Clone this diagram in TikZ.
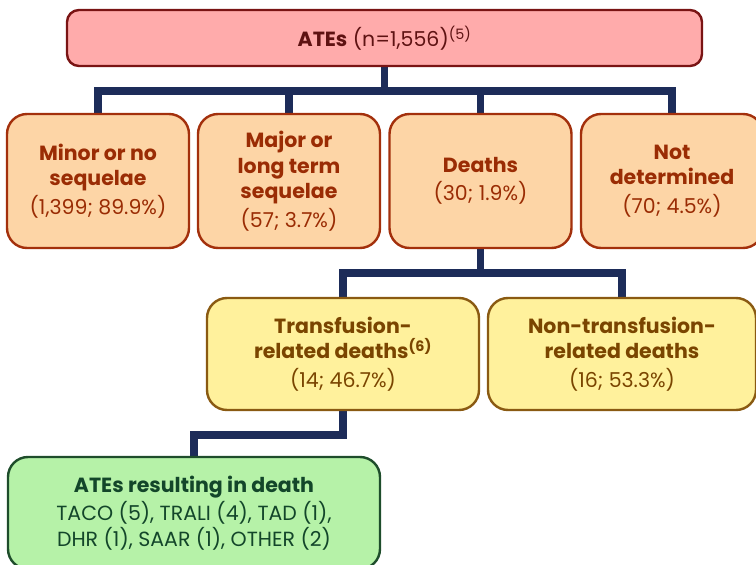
\documentclass[tikz,border=0pt]{standalone}
\usepackage{fontspec}
\setmainfont{Poppins}
\usepackage{tikz}
\usepackage{xcolor}
\usetikzlibrary{backgrounds}
\definecolor{linknavy}{HTML}{1D2C59}
\definecolor{topfill}{HTML}{FFABAB}
\definecolor{topdraw}{HTML}{7A1414}
\definecolor{toptext}{HTML}{5E1212}
\definecolor{midfill}{HTML}{FDD5A6}
\definecolor{middraw}{HTML}{A3300C}
\definecolor{midtext}{HTML}{9A2C04}
\definecolor{yelfill}{HTML}{FFF19C}
\definecolor{yeldraw}{HTML}{8A5A12}
\definecolor{yeltext}{HTML}{7A4500}
\definecolor{grnfill}{HTML}{B6F2A8}
\definecolor{grndraw}{HTML}{1E4D2B}
\definecolor{grntext}{HTML}{13462A}
\def\drop{24}

\begin{document}
\begin{tikzpicture}[x=1pt,y=-1pt]
    \tikzstyle{box}=[rounded corners=20pt,line width=2.4pt,align=center,inner sep=0pt,
        font=\fontsize{20.5}{25.5}\selectfont]
    \tikzstyle{top box}=[box,rounded corners=12pt,fill=topfill,draw=topdraw,text=toptext,
        minimum width=635pt,minimum height=56pt]
    \tikzstyle{outcome}=[box,fill=midfill,draw=middraw,text=midtext,
        minimum width=182pt,minimum height=134pt]
    \tikzstyle{death}=[box,fill=yelfill,draw=yeldraw,text=yeltext,
        minimum height=112pt]
    \tikzstyle{cause}=[box,fill=grnfill,draw=grndraw,text=grntext,
        minimum width=372pt,minimum height=112pt]
    \tikzstyle{link}=[draw=linknavy,line width=7.5pt]

    \useasboundingbox (0,0) rectangle (756,565);

    % All reported events
    \node[top box] (ates) at (384.5,38) {\textbf{ATEs} (n=1,556)\textsuperscript{(5)}};

    % Outcome of the events
    \node[outcome] (minor) at (98,181) {\textbf{Minor or no}\\\textbf{sequelae}\\[3pt](1,399; 89.9\%)};
    \node[outcome] (major) at (289,181) {\textbf{Major or}\\\textbf{long term}\\\textbf{sequelae}\\[3pt](57; 3.7\%)};
    \node[outcome] (deaths) at (480.5,181) {\textbf{Deaths}\\[3pt](30; 1.9\%)};
    \node[outcome] (notdet) at (672,181) {\textbf{Not}\\\textbf{determined}\\[3pt](70; 4.5\%)};

    % Split of the deaths
    \node[death,minimum width=272pt] (trd) at (343,354) {\textbf{Transfusion-}\\\textbf{related deaths\textsuperscript{(6)}}\\[3pt](14; 46.7\%)};
    \node[death,minimum width=268pt] (ntrd) at (622,354) {\textbf{Non-transfusion-}\\\textbf{related deaths}\\[3pt](16; 53.3\%)};

    % Events behind the transfusion-related deaths
    \node[cause] (result) at (194,513) {\textbf{ATEs resulting in death}\\[3pt]TACO (5), TRALI (4), TAD (1),\\DHR (1), SAAR (1), OTHER (2)};

    % Connect the levels
    \begin{scope}[on background layer]
    \foreach \dest in {minor,major,deaths,notdet}
        \draw[link] (ates.south) -- ++(0,\drop) -| (\dest.north);
    \foreach \dest in {trd,ntrd}
        \draw[link] (deaths.south) -- ++(0,\drop) -| (\dest.north);
    \draw[link] (trd.south) -- ++(0,\drop) -| (result.north);
    \end{scope}
\end{tikzpicture}
\end{document}
